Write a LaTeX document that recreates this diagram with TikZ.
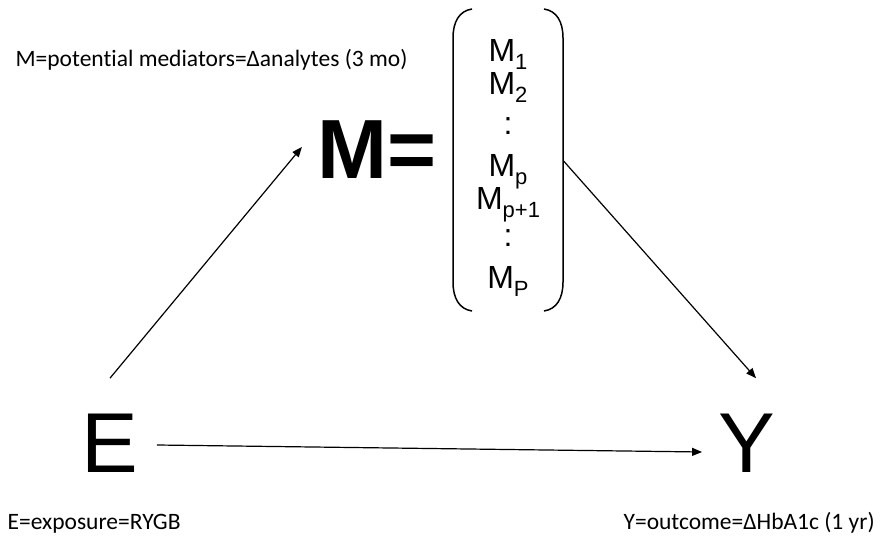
\documentclass[tikz,border=0pt]{standalone}
\usepackage{fontspec}
\setmainfont{Carlito}[Ligatures=CommonOff]
\newfontfamily\arialfont{Liberation Sans}
\usetikzlibrary{arrows.meta, positioning, calc}
\tikzset{
  every picture/.style={line width=1.2pt},
  big/.style={font=\arialfont\fontsize{85}{85}\selectfont, inner sep=0pt},
  entry/.style={font=\arialfont\fontsize{32}{32}\selectfont, inner sep=0pt, anchor=base},
  note/.style={font=\fontsize{23.5}{23.5}\selectfont, inner sep=0pt, anchor=base west},
  arrow/.style={-{Triangle[length=10pt, width=8pt]}, line width=1.2pt},
  paren/.style={line width=1.5pt},
}
\newcommand{\msub}[1]{M\raisebox{-8pt}{\fontsize{22}{22}\selectfont #1}}

\begin{document}
\begin{tikzpicture}[x=1pt, y=-1pt]
  \useasboundingbox (0,0) rectangle (886,540);
  % exposure, outcome and the mediator block
  \node[big] (E) at (110,443) {E};
  \node[big] (Y) at (747,443) {Y};
  \node[big, font=\arialfont\bfseries\fontsize{84}{84}\selectfont] (Mbig) at (377,150) {M=};
  \node[minimum width=110pt, minimum height=304pt, inner sep=0pt] (Mvec) at (508,160) {};
  \foreach \y/\t/\n in {62/1/a, 95/2/b, 177/p/c, 210/p+1/d, 288/P/e}
    \node[entry] (m\n) at (508,\y) {\msub{\t}};
  \node[entry] (dotsA) at (508,135) {:};
  \node[entry] (dotsB) at (508,247) {:};
  \draw[paren] (472,9) .. controls (459,11) and (453,22) .. (453,38) -- (453,282) .. controls (453,298) and (459,309) .. (472,311);
  \draw[paren] (544,9) .. controls (557,11) and (563,22) .. (563,38) -- (563,282) .. controls (563,298) and (557,309) .. (544,311);
  % paths
  \draw[arrow] ([yshift=35pt]E.north) -- ([xshift=-15pt, yshift=3pt]Mbig.west);
  \draw[arrow] ([yshift=-1pt]Mvec.east) -- ([xshift=9pt, yshift=35pt]Y.north);
  \draw[arrow] ([xshift=18pt, yshift=-2pt]E.east) -- ([xshift=-16pt, yshift=-9pt]Y.west);
  % legends
  \node[note] (lblM) at (15,67) {M=potential mediators=Δanalytes (3 mo)};
  \node[note] (lblE) at (7,529) {E=exposure=RYGB};
  \node[note] (lblY) at (623,529) {Y=outcome=ΔHbA1c (1 yr)};
\end{tikzpicture}
\end{document}
